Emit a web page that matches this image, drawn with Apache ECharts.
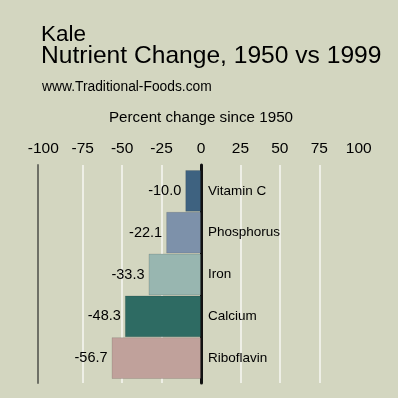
<!DOCTYPE html>
<html><head><meta charset="utf-8">
<script src="https://cdn.jsdelivr.net/npm/echarts@6/dist/echarts.min.js"></script>
<style>html,body{margin:0;padding:0;background:#d3d6c0}#c{width:398px;height:398px}</style>
</head><body><div id="c"></div>
<script>
const categories = ['Vitamin C', 'Phosphorus', 'Iron', 'Calcium', 'Riboflavin'];
const values = [-10.0, -22.1, -33.3, -48.3, -56.7];
const barColors = ['#3e6280', '#7d91aa', '#98b6b0', '#2e6b63', '#c0a19b'];
const tickValues = [-100, -75, -50, -25, 0, 25, 50, 75, 100];

const FONT = '"Liberation Sans", Arial, sans-serif';
const chart = echarts.init(document.getElementById('c'));
const L = 43.3, R = 39.3;
const W = 398 - L - R;
// bar grid spans -100..0 : same scale as the full axis grid
const R0 = 398 - (L + W / 2);
chart.setOption({
  backgroundColor: '#d3d6c0',
  animation: false,
  title: [
    { text: 'Kale', left: 36, top: 18, textStyle: { fontFamily: FONT, fontSize: 22.5, fontWeight: 'normal', color: '#000' } },
    { text: 'Nutrient Change, 1950 vs 1999', left: 36, top: 39, textStyle: { fontFamily: FONT, fontSize: 24.6, fontWeight: 'normal', color: '#000' } },
    { text: 'www.Traditional-Foods.com', left: 37, top: 75, textStyle: { fontFamily: FONT, fontSize: 13.8, fontWeight: 'normal', color: '#000' } }
  ],
  grid: [
    { left: L, right: R0, top: 170, bottom: 398 - 379 },
    { left: L, right: R, top: 165, bottom: 398 - 383 }
  ],
  xAxis: [
    { gridIndex: 0, type: 'value', min: -100, max: 0, interval: 25,
      axisLine: { show: false }, axisTick: { show: false }, axisLabel: { show: false }, splitLine: { show: false } },
    { gridIndex: 1, type: 'value', min: -100, max: 100, interval: 25, position: 'top',
      name: 'Percent change since 1950', nameLocation: 'middle', nameGap: 40,
      nameTextStyle: { fontFamily: FONT, fontSize: 15.2, color: '#000' },
      axisLine: { show: false }, axisTick: { show: false },
      axisLabel: { fontFamily: FONT, fontSize: 15.5, color: '#000', margin: 8 },
      splitLine: { show: true, showMinLine: false, showMaxLine: false, lineStyle: { color: '#eeefe6', width: 2 } }
    }
  ],
  yAxis: [
    { gridIndex: 0, type: 'category', data: categories, inverse: true, position: 'right',
      axisLine: { show: false }, axisTick: { show: false },
      axisLabel: { margin: 7, fontFamily: FONT, fontSize: 13.5, color: '#000' },
      splitLine: { show: false } },
    { gridIndex: 1, type: 'value', min: 0, max: 1,
      axisLine: { show: true, onZero: true, lineStyle: { color: '#111', width: 3 } },
      axisTick: { show: false }, axisLabel: { show: false }, splitLine: { show: false } },
    { gridIndex: 1, type: 'value', min: 0, max: 1, position: 'left', offset: 5.6,
      axisLine: { show: true, onZero: false, lineStyle: { color: '#6e7066', width: 2 } },
      axisTick: { show: false }, axisLabel: { show: false }, splitLine: { show: false } }
  ],
  series: [{
    type: 'bar', xAxisIndex: 0, yAxisIndex: 0, z: 5,
    barCategoryGap: '0%',
    data: values.map((v, i) => ({ value: v, itemStyle: { color: barColors[i] } })),
    itemStyle: { borderColor: 'rgba(0,0,0,0.12)', borderWidth: 1 },
    label: { show: true, position: 'left', distance: 4, fontFamily: FONT, fontSize: 14.5, color: '#000',
      formatter: p => p.value.toFixed(1) }
  }]
});
</script></body></html>
